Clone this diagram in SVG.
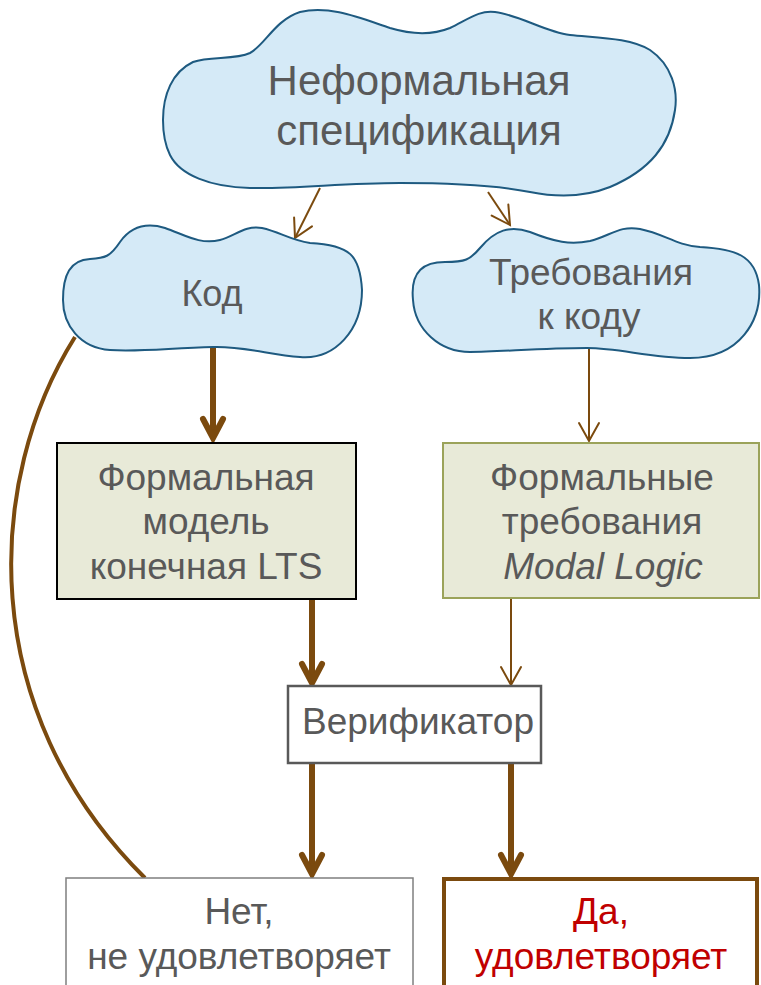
<svg xmlns="http://www.w3.org/2000/svg" width="761" height="985" viewBox="0 0 761 985">
<defs>
<style>
.cloud{fill:#D5EAF7;stroke:#1E5A80;stroke-width:2}
.t{font-family:"Liberation Sans",Arial,sans-serif;fill:#595959;text-anchor:middle}
.thin{fill:none;stroke:#7B4A0E;stroke-width:2}
.thick{fill:none;stroke:#7B4A0E;stroke-width:6}
</style>
<marker id="ah" markerUnits="userSpaceOnUse" viewBox="-22 -14 26 28" markerWidth="26" markerHeight="28" refX="0" refY="0" orient="auto" overflow="visible">
<path d="M-18,-10 L0,0 L-18,10" fill="none" stroke="#7B4A0E" stroke-width="2" stroke-linecap="round"/>
</marker>
<marker id="ahb" markerUnits="userSpaceOnUse" viewBox="-26 -16 32 32" markerWidth="32" markerHeight="32" refX="0" refY="0" orient="auto" overflow="visible">
<path d="M-19,-10 L0,0 L-19,10" fill="none" stroke="#7B4A0E" stroke-width="6" stroke-linecap="round" stroke-linejoin="miter"/>
</marker>
</defs>
<rect width="761" height="985" fill="#FFFFFF"/>

<g id="connectors">
<path class="thin" d="M320,188 L295,238" marker-end="url(#ah)"/>
<path class="thin" d="M488,192 L510,225" marker-end="url(#ah)"/>
<path class="thick" d="M213,347 L213,438" marker-end="url(#ahb)"/>
<path class="thin" d="M589,348 L589,441" marker-end="url(#ah)"/>
<path class="thick" d="M312,599 L312,683" marker-end="url(#ahb)"/>
<path class="thin" d="M511,599 L511,685" marker-end="url(#ah)"/>
<path class="thick" d="M312,763 L312,874" marker-end="url(#ahb)"/>
<path class="thick" d="M511,763 L511,874" marker-end="url(#ahb)"/>
<path fill="none" stroke="#7B4A0E" stroke-width="4" d="M75,337 C-15,480 -25,710 145,878"/>
</g>

<g id="informal-spec">
<path class="cloud" d="M163,120 C163,95 172,72 193,62 C210,56 235,60 250,53 C265,45 275,20 300,12 C330,5 360,18 390,28 C410,34 430,36 450,28 C470,18 480,10 495,12 C520,15 545,32 570,35 C600,38 630,38 650,50 C672,65 678,90 675,110 C670,145 650,170 610,187 C585,197 560,198 530,192 C500,186 460,183 400,183 C340,183 300,189 250,188 C210,187 180,175 170,155 C165,145 163,133 163,120 Z"/>
<text class="t" x="419" y="95" font-size="42">Неформальная</text>
<text class="t" x="419" y="145" font-size="42">спецификация</text>
</g>

<g id="code">
<path class="cloud" d="M63,300 C63,275 70,260 90,259 C105,258 110,257 120,242 C130,228 145,222 165,228 C185,235 200,245 220,240 C235,236 245,225 262,228 C280,232 290,240 310,243 C350,245 360,255 362,290 C362,330 335,360 300,357 C270,355 245,346 213,347 C170,348 140,352 110,350 C80,348 63,325 63,300 Z"/>
<text class="t" x="212" y="306" font-size="36">Код</text>
</g>

<g id="requirements">
<path class="cloud" d="M413,300 C410,270 425,262 445,262 C465,262 470,260 480,248 C495,230 510,225 530,232 C555,242 570,245 590,241 C610,236 620,225 640,229 C665,234 675,245 700,247 C735,249 755,255 759,285 C762,320 740,358 690,358 C650,358 620,348 587,348 C540,348 500,352 470,352 C440,352 415,330 413,300 Z"/>
<text class="t" x="591" y="285" font-size="37">Требования</text>
<text class="t" x="589" y="329" font-size="37">к коду</text>
</g>

<g id="formal-model">
<rect x="57" y="443" width="299" height="156" fill="#E8EAD8" stroke="#000000" stroke-width="2"/>
<text class="t" x="206" y="490" font-size="37">Формальная</text>
<text class="t" x="206" y="534" font-size="37">модель</text>
<text class="t" x="206" y="579" font-size="37">конечная LTS</text>
</g>

<g id="formal-req">
<rect x="443" y="443" width="316" height="155" fill="#E8EAD8" stroke="#9BA35A" stroke-width="2"/>
<text class="t" x="602" y="490" font-size="37">Формальные</text>
<text class="t" x="602" y="534" font-size="37">требования</text>
<text class="t" x="603" y="579" font-size="37" font-style="italic">Modal Logic</text>
</g>

<g id="verifier">
<rect x="288" y="686" width="253" height="77" fill="#FFFFFF" stroke="#595959" stroke-width="2.5"/>
<text class="t" x="418" y="734" font-size="37">Верификатор</text>
</g>

<g id="no">
<rect x="66" y="878" width="347" height="130" fill="#FFFFFF" stroke="#7F7F7F" stroke-width="1.5"/>
<text class="t" x="239" y="924" font-size="37">Нет,</text>
<text class="t" x="239" y="969" font-size="37">не удовлетворяет</text>
</g>

<g id="yes">
<rect x="444" y="879" width="313" height="130" fill="#FFFFFF" stroke="#7B4A0E" stroke-width="4"/>
<text class="t" x="601" y="924" font-size="37" style="fill:#C00000">Да,</text>
<text class="t" x="601" y="969" font-size="37" style="fill:#C00000">удовлетворяет</text>
</g>
</svg>
